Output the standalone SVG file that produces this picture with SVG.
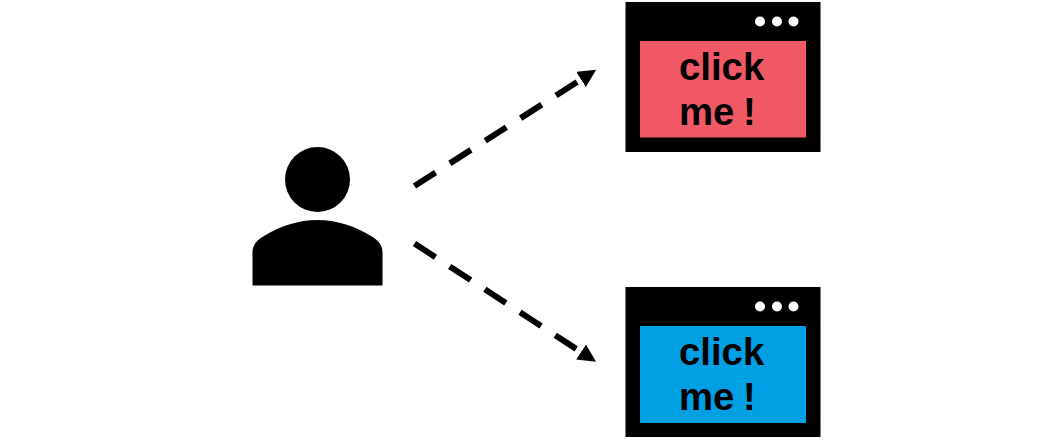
<svg xmlns="http://www.w3.org/2000/svg" width="1064" height="440" viewBox="0 0 1064 440">
<defs>
<marker id="arrow" markerUnits="userSpaceOnUse" markerWidth="20" markerHeight="20" refX="0" refY="9" orient="auto"><path d="M0 0L18 9L0 18Z" fill="#000"/></marker>
</defs>
<style>
.frame{fill:#000}
.dot{fill:#fff}
.lbl{font-family:"Liberation Sans",Arial,sans-serif;font-weight:700;font-size:38.3px;word-spacing:-2px;fill:#000}
.conn{fill:none;stroke:#000;stroke-width:6;stroke-dasharray:25 17}
</style>
<rect width="1064" height="440" fill="#fff"/>
<g id="user">
<circle cx="317.5" cy="179.5" r="32.5" fill="#000"/>
<path d="M252.5 285.5V252C252.5 245 257 240 264 236C280 226 299 220 317.5 220C336 220 355 226 371 236C378 240 382.5 245 382.5 252V285.500Z" fill="#000"/>
</g>
<g id="connectors">
<line class="conn" x1="414.5" y1="186" x2="581" y2="79.5" marker-end="url(#arrow)"/>
<line class="conn" x1="414.5" y1="243.5" x2="581" y2="352" marker-end="url(#arrow)"/>
</g>
<g id="window-red">
<rect class="frame" x="625.5" y="2" width="195" height="150"/>
<rect x="640" y="41" width="166" height="96.500" fill="#f15a64"/>
<circle class="dot" cx="760" cy="21.500" r="5"/><circle class="dot" cx="777" cy="21.500" r="5"/><circle class="dot" cx="793.500" cy="21.500" r="5"/>
<text class="lbl" x="679" y="80">click</text>
<text class="lbl" x="679" y="125">me !</text>
</g>
<g id="window-blue">
<rect class="frame" x="625.5" y="287" width="195" height="150"/>
<rect x="640" y="326" width="166" height="97" fill="#019fe3"/>
<circle class="dot" cx="760" cy="306.500" r="5"/><circle class="dot" cx="777" cy="306.500" r="5"/><circle class="dot" cx="793.500" cy="306.500" r="5"/>
<text class="lbl" x="679" y="365">click</text>
<text class="lbl" x="679" y="410">me !</text>
</g>
</svg>
